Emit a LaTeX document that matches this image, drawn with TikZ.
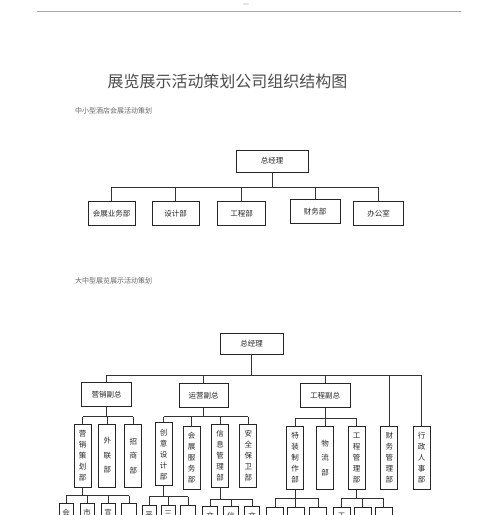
\documentclass[tikz,border=0pt]{standalone}
\usepackage{fontspec}
\newfontfamily\cjk{Noto Sans CJK SC}
\begin{document}
\begin{tikzpicture}[x=1pt,y=-1pt,
  conn/.style={draw=black!80,line width=0.8pt},
  hbox/.style={draw=black!85,line width=0.9pt,inner sep=0pt,text=black!85,
    font=\cjk\fontsize{7.5}{9}\selectfont},
  vbox/.style={hbox,minimum width=17pt,minimum height=63pt,align=center,
    font=\cjk\fontsize{7.5}{11}\selectfont},
  vwide/.style={vbox,font=\cjk\fontsize{7.5}{14.5}\selectfont},
  lbox/.style={draw=black!85,line width=0.9pt,inner sep=0pt,anchor=north,
    minimum width=#1,minimum height=40pt},
  lbox/.default=15pt,
  peek/.style={anchor=north,inner sep=0pt,yshift=-6pt,text=black!80,
    font=\cjk\fontsize{7.5}{9}\selectfont}
]
\clip (0,0) rectangle (500,515);
\fill[white] (0,0) rectangle (500,515);

% header
\node[text=black!45,font=\cjk\fontsize{7}{8}\selectfont] (dash) at (246,5) {—};
\draw[black!35,line width=1pt] (37,11) -- (461,11);

% titles
\node[text=black!70,font=\cjk\fontsize{16}{18}\selectfont] (title) at (227.5,81) {展览展示活动策划公司组织结构图};
\node[anchor=west,inner sep=0pt,text=black!60,font=\cjk\fontsize{7}{8}\selectfont] (sub1) at (75,111) {中小型酒店会展活动策划};
\node[anchor=west,inner sep=0pt,text=black!60,font=\cjk\fontsize{7}{8}\selectfont] (sub2) at (75,281) {大中型展览展示活动策划};

% ---------- chart 1 ----------
\node[hbox,minimum width=72pt,minimum height=22pt] (gm1) at (272,161) {总经理};
\node[hbox,minimum width=47pt,minimum height=24pt] (a1) at (111.7,213.7) {会展业务部};
\node[hbox,minimum width=47pt,minimum height=24pt] (a2) at (175.5,213.7) {设计部};
\node[hbox,minimum width=48pt,minimum height=24pt] (a3) at (241.5,213.7) {工程部};
\node[hbox,minimum width=50pt,minimum height=24pt] (a4) at (315,211.5) {财务部};
\node[hbox,minimum width=50pt,minimum height=24pt] (a5) at (378.5,213.7) {办公室};
\coordinate (bus1) at (0,187);
\draw[conn] (gm1.south) -- (gm1.south |- bus1);
\draw[conn] (a1.north |- bus1) -- (a5.north |- bus1);
\foreach \n in {a1,a2,a3,a4,a5} \draw[conn] (\n.north) -- (\n.north |- bus1);

% ---------- chart 2 ----------
\node[hbox,minimum width=63pt,minimum height=21pt] (gm2) at (251.5,343.5) {总经理};
\node[hbox,minimum width=50pt,minimum height=24pt] (vp1) at (106.5,394.7) {营销副总};
\node[hbox,minimum width=49pt,minimum height=24pt] (vp2) at (203.5,395.8) {运营副总};
\node[hbox,minimum width=50pt,minimum height=24pt] (vp3) at (325,395.8) {工程副总};
\node[vbox] (fin) at (389.3,457.5) {财\\务\\管\\理\\部};
\node[vbox] (hr) at (421.7,457.5) {行\\政\\人\\事\\部};
\coordinate (bus2) at (0,375);
\draw[conn] (gm2.south) -- (gm2.south |- bus2);
\draw[conn] (vp1.north |- bus2) -- (hr.north |- bus2);
\foreach \n in {vp1,vp2,vp3,fin,hr} \draw[conn] (\n.north) -- (\n.north |- bus2);

% level 3 under 营销副总
\node[vbox] (m1) at (82.7,455.5) {营\\销\\策\\划\\部};
\node[vwide] (m2) at (107.3,455.5) {外\\联\\部};
\node[vwide] (m3) at (133.3,456) {招\\商\\部};
\coordinate (busm) at (0,416.7);
\draw[conn] (vp1.south) -- (vp1.south |- busm);
\draw[conn] (m1.north |- busm) -- (m3.north |- busm);
\foreach \n in {m1,m2,m3} \draw[conn] (\n.north) -- (\n.north |- busm);

% level 3 under 运营副总
\node[vbox] (o1) at (163.7,454.2) {创\\意\\设\\计\\部};
\node[vbox] (o2) at (191.7,457.5) {会\\展\\服\\务\\部};
\node[vbox] (o3) at (220,455.5) {信\\息\\管\\理\\部};
\node[vbox] (o4) at (248.3,455.5) {安\\全\\保\\卫\\部};
\coordinate (buso) at (0,416.7);
\draw[conn] (vp2.south) -- (vp2.south |- buso);
\draw[conn] (o1.north |- buso) -- (o4.north |- buso);
\foreach \n in {o1,o2,o3,o4} \draw[conn] (\n.north) -- (\n.north |- buso);

% level 3 under 工程副总
\node[vbox] (e1) at (295,457.8) {特\\装\\制\\作\\部};
\node[vwide] (e2) at (325,457.8) {物\\流\\部};
\node[vbox] (e3) at (356.7,457.8) {工\\程\\管\\理\\部};
\coordinate (buse) at (0,418.3);
\draw[conn] (vp3.south) -- (vp3.south |- buse);
\draw[conn] (e1.north |- buse) -- (e3.north |- buse);
\foreach \n in {e1,e2,e3} \draw[conn] (\n.north) -- (\n.north |- buse);

% ---------- level 4 (cut off at the page edge) ----------
% under 营销策划部
\node[lbox=14pt] (m11) at (66,503) {};
\node[lbox=14pt] (m12) at (87,503) {};
\node[lbox=14pt] (m13) at (108,503) {};
\node[lbox=15pt] (m14) at (129,503) {};
\node[peek] (t111) at (m11.north) {会};
\node[peek] (t112) at (m12.north) {市};
\node[peek] (t113) at (m13.north) {宣};
\coordinate (busm1) at (0,495.7);
\draw[conn] (m1.south) -- (m1.south |- busm1);
\draw[conn] (m11.north |- busm1) -- (m14.north |- busm1);
\foreach \n in {m11,m12,m13,m14} \draw[conn] (\n.north) -- (\n.north |- busm1);

% under 创意设计部
\node[lbox=14pt] (o11) at (149,505) {};
\node[lbox=14pt] (o12) at (168,505) {};
\node[lbox=15pt] (o13) at (188,505) {};
\node[peek] (t121) at (o11.north) {平};
\node[peek] (t122) at (o12.north) {三};
\coordinate (buso1) at (0,496.7);
\draw[conn] (o1.south) -- (o1.south |- buso1);
\draw[conn] (o11.north |- buso1) -- (o13.north |- buso1);
\foreach \n in {o11,o12,o13} \draw[conn] (\n.north) -- (\n.north |- buso1);

% under 信息管理部
\node[lbox=15pt] (o31) at (210,506) {};
\node[lbox=15pt] (o32) at (231,506) {};
\node[lbox=15pt] (o33) at (252,506) {};
\node[peek] (t131) at (o31.north) {文};
\node[peek] (t132) at (o32.north) {信};
\node[peek] (t133) at (o33.north) {文};
\coordinate (buso3) at (0,499.3);
\draw[conn] (o3.south) -- (o3.south |- buso3);
\draw[conn] (o31.north |- buso3) -- (o33.north |- buso3);
\foreach \n in {o31,o32,o33} \draw[conn] (\n.north) -- (\n.north |- buso3);

% under 特装制作部
\node[lbox=17pt] (e11) at (275.3,506.5) {};
\node[lbox=17pt] (e12) at (295.5,506.5) {};
\node[lbox=17pt] (e13) at (318,506.5) {};
\coordinate (buse1) at (0,498.3);
\draw[conn] (e1.south) -- (e1.south |- buse1);
\draw[conn] (e11.north |- buse1) -- (e13.north |- buse1);
\foreach \n in {e11,e12,e13} \draw[conn] (\n.north) -- (\n.north |- buse1);

% under 工程管理部
\node[lbox=17pt] (e31) at (341.7,506.5) {};
\node[lbox=17pt] (e32) at (362.7,506.5) {};
\node[lbox=17pt] (e33) at (383.7,506.5) {};
\node[peek] (t151) at (e31.north) {工};
\coordinate (buse3) at (0,498.3);
\draw[conn] (e3.south) -- (e3.south |- buse3);
\draw[conn] (e31.north |- buse3) -- (e33.north |- buse3);
\foreach \n in {e31,e32,e33} \draw[conn] (\n.north) -- (\n.north |- buse3);
\end{tikzpicture}
\end{document}
